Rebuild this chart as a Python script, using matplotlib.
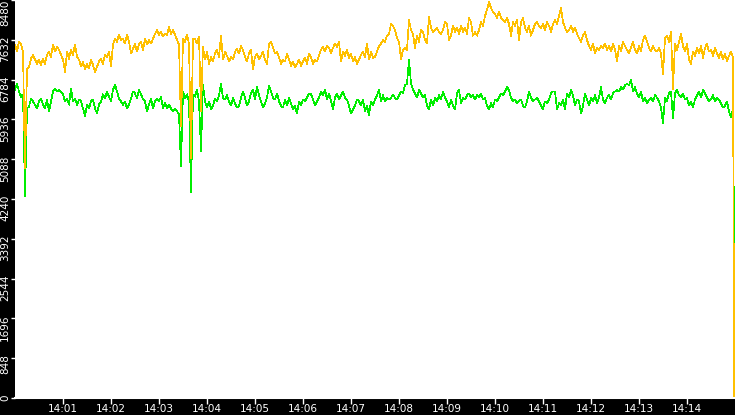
import datetime as dt
import matplotlib
matplotlib.use("Agg")
import matplotlib.pyplot as plt
import matplotlib.dates as mdates
import matplotlib.transforms as mtransforms

# ---- data ----
start = dt.datetime(2024, 1, 1, 14, 0, 0)
step_seconds = 2.5
end_sample = dt.datetime(2024, 1, 1, 14, 14, 59)

orange = [
    7530, 7380, 7590, 7550, 7380, 4900, 7000, 7060, 7230, 7310,
    7210, 7120, 7210, 7100, 7230, 7120, 7310, 7380, 7270, 7530,
    7380, 7480, 7420, 7310, 7210, 6950, 7380, 7230, 7420, 7310,
    7530, 7270, 7210, 7060, 7170, 7000, 7120, 7020, 7210, 7100,
    6950, 7060, 7170, 7230, 7120, 7310, 7270, 7380, 7060, 7530,
    7650, 7590, 7740, 7630, 7650, 7550, 7740, 7590, 7340, 7440,
    7550, 7380, 7530, 7590, 7420, 7650, 7530, 7630, 7550, 7650,
    7760, 7840, 7740, 7800, 7700, 7760, 7740, 7910, 7760, 7840,
    7740, 7630, 7530, 5790, 7650, 7590, 7740, 7550, 5110, 7650,
    7650, 7550, 7700, 6110, 7480, 7210, 7380, 7120, 7270, 7170,
    7340, 7420, 7270, 7720, 7210, 7380, 7290, 7170, 7270, 7210,
    7380, 7440, 7340, 7500, 7420, 7270, 7170, 7340, 7420, 7000,
    7270, 7340, 7210, 7290, 7380, 7210, 7120, 7550, 7590, 7460,
    7340, 7380, 7250, 7120, 7210, 7170, 7340, 7210, 7080, 7170,
    7040, 7120, 7210, 7080, 7170, 7250, 7120, 7340, 7250, 7120,
    7210, 7170, 7290, 7420, 7480, 7380, 7500, 7460, 7340, 7460,
    7550, 7480, 7590, 7170, 7380, 7290, 7420, 7250, 7340, 7170,
    7270, 7120, 7210, 7310, 7380, 7270, 7550, 7210, 7380, 7250,
    7270, 7380, 7500, 7550, 7630, 7590, 7720, 7760, 7970, 7930,
    7840, 7670, 7590, 7210, 7420, 7460, 7420, 8060, 7840, 7760,
    7460, 7720, 7590, 7840, 7800, 7630, 7550, 8120, 7890, 7800,
    7840, 7890, 7800, 7760, 7840, 8010, 7970, 7630, 7720, 7930,
    7800, 7890, 7760, 7930, 7800, 7890, 7760, 8100, 8010, 7720,
    7800, 7720, 7840, 8010, 7930, 8140, 8270, 8440, 8310, 8230,
    8180, 8100, 8230, 8100, 8060, 8010, 8100, 7970, 7720, 8010,
    7930, 8060, 7630, 8010, 8100, 7890, 7800, 7930, 7720, 7840,
    7970, 8010, 7930, 7890, 7970, 7840, 8010, 7930, 7800, 7970,
    8060, 7970, 8140, 8310, 8010, 7890, 7800, 7840, 7930, 7800,
    7890, 7760, 7670, 7590, 7720, 7800, 7630, 7500, 7420, 7550,
    7340, 7460, 7420, 7500, 7460, 7550, 7420, 7500, 7380, 7550,
    7420, 7170, 7500, 7380, 7590, 7500, 7420, 7340, 7460, 7590,
    7420, 7340, 7500, 7380, 7630, 7720, 7590, 7460, 7380, 7500,
    7420, 7380, 7460, 7340, 6890, 7670, 7720, 7590, 7800, 6590,
    7550, 7420, 7590, 7760, 7500, 7380, 7550, 7210, 7120, 7380,
    7290, 7460, 7340, 7500, 7250, 7460, 7550, 7380, 7420, 7290,
    7460, 7340, 7250, 7380, 7210, 7340, 7170, 7290, 7380, 7250,
    0,
]

green = [
    6570, 6700, 6530, 6420, 6470, 4300, 6170, 6210, 6380, 6320,
    6250, 6170, 6320, 6380, 6250, 6170, 6360, 6110, 6320, 6530,
    6590, 6530, 6570, 6530, 6470, 6320, 6380, 6250, 6590, 6320,
    6380, 6250, 6360, 6320, 6170, 6000, 6250, 6170, 6320, 6360,
    6170, 6060, 6250, 6320, 6470, 6380, 6530, 6420, 6320, 6570,
    6680, 6530, 6380, 6320, 6250, 6320, 6170, 6250, 6380, 6530,
    6490, 6380, 6570, 6470, 6360, 6320, 6110, 6250, 6380, 6170,
    6320, 6380, 6320, 6420, 6170, 6280, 6170, 6250, 6170, 6110,
    6170, 6110, 6040, 4940, 6530, 6380, 6470, 6320, 4390, 6470,
    6420, 6570, 6320, 5260, 6680, 6320, 6190, 6320, 6150, 6230,
    6380, 6320, 6450, 6700, 6400, 6360, 6450, 6320, 6230, 6400,
    6280, 6190, 6230, 6400, 6530, 6400, 6230, 6320, 6490, 6570,
    6360, 6640, 6450, 6320, 6190, 6280, 6400, 6660, 6530, 6400,
    6360, 6490, 6320, 6230, 6190, 6360, 6230, 6400, 6280, 6150,
    6230, 6060, 6320, 6230, 6360, 6320, 6400, 6490, 6470, 6360,
    6230, 6320, 6400, 6530, 6450, 6570, 6360, 6490, 6320, 6150,
    6400, 6490, 6360, 6450, 6530, 6400, 6360, 6230, 6060, 6150,
    6230, 6360, 6320, 6230, 6360, 6110, 6230, 6020, 6320, 6230,
    6360, 6450, 6570, 6320, 6450, 6320, 6400, 6360, 6400, 6450,
    6400, 6360, 6450, 6530, 6490, 6660, 6700, 7210, 6700, 6570,
    6490, 6400, 6570, 6490, 6400, 6450, 6230, 6150, 6360, 6230,
    6400, 6320, 6450, 6360, 6530, 6400, 6320, 6190, 6360, 6230,
    6150, 6490, 6570, 6280, 6400, 6360, 6450, 6490, 6400, 6450,
    6360, 6450, 6400, 6490, 6360, 6400, 6230, 6150, 6280, 6190,
    6360, 6320, 6400, 6490, 6450, 6530, 6620, 6570, 6400, 6320,
    6360, 6280, 6320, 6360, 6230, 6190, 6320, 6530, 6400, 6320,
    6360, 6400, 6320, 6230, 6150, 6320, 6280, 6360, 6490, 6530,
    6530, 6150, 6280, 6230, 6360, 6150, 6490, 6400, 6570, 6450,
    6230, 6360, 6320, 6060, 6230, 6490, 6360, 6230, 6400, 6320,
    6450, 6280, 6400, 6620, 6360, 6280, 6400, 6450, 6360, 6490,
    6530, 6570, 6530, 6620, 6570, 6660, 6700, 6660, 6780, 6530,
    6620, 6490, 6400, 6530, 6320, 6400, 6280, 6360, 6400, 6320,
    6450, 6400, 6320, 6190, 5850, 6400, 6320, 6490, 6530, 5960,
    6490, 6570, 6450, 6400, 6490, 6360, 6400, 6230, 6320, 6190,
    6360, 6450, 6530, 6400, 6570, 6490, 6400, 6320, 6360, 6450,
    6320, 6400, 6360, 6280, 6190, 6230, 6320, 6110, 5980, 6150,
    3140,
]

yticks = [0, 848, 1696, 2544, 3392, 4240, 5088, 5936, 6784, 7632, 8480]

times = [start + dt.timedelta(seconds=step_seconds * i) for i in range(len(orange) - 1)]
times.append(end_sample)

# ---- figure ----
W, H = 735, 415
fig = plt.figure(figsize=(W / 100, H / 100), dpi=100, facecolor="black")
ax = fig.add_axes([15 / W, 17 / H, 720 / W, 398 / H])
ax.set_facecolor("white")

ax.plot(times, green, color="#00EE00", linewidth=0.5, antialiased=False)
ax.plot(times, orange, color="#FFC000", linewidth=0.5, antialiased=False)

ax.set_ylim(0, 8480)
ax.set_xlim(start, start + dt.timedelta(minutes=15))
ax.set_yticks(yticks)
ax.set_yticklabels([str(v) for v in yticks])
ax.xaxis.set_major_locator(mdates.MinuteLocator(byminute=range(1, 15)))
ax.xaxis.set_major_formatter(mdates.DateFormatter("%H:%M"))

for s in ["top", "right", "left"]:
    ax.spines[s].set_visible(False)
ax.spines["bottom"].set_color("white")
ax.spines["bottom"].set_linewidth(1.5)

ax.tick_params(axis="x", colors="white", length=4, width=1, pad=0.5, labelsize=7.5)
ax.tick_params(axis="y", colors="white", length=3, width=1, pad=0.5, labelsize=7.5)

offset = mtransforms.ScaledTranslation(0, 4 / 100, fig.dpi_scale_trans)
ylabels = ax.get_yticklabels()
for i, lab in enumerate(ylabels):
    lab.set_rotation(90)
    lab.set_va("top")
    lab.set_ha("right")
    if i < len(ylabels) - 1:
        lab.set_transform(lab.get_transform() + offset)

fig.savefig("out.png", dpi=100, facecolor="black")
